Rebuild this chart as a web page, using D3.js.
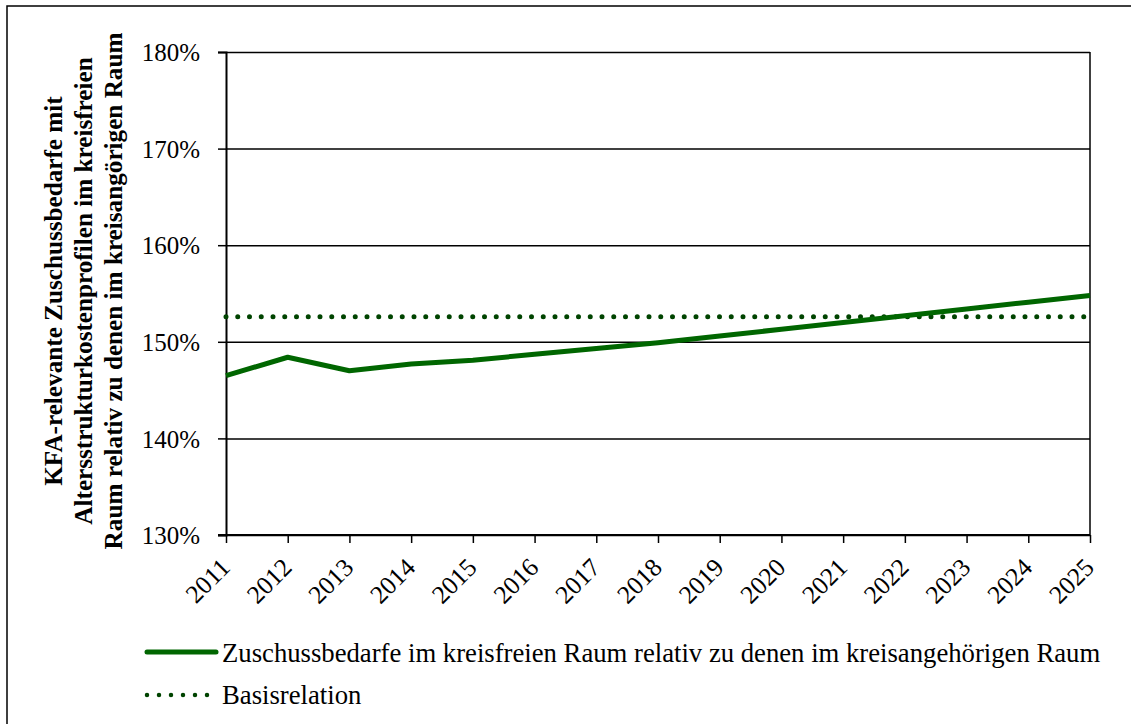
<!DOCTYPE html>
<html>
<head>
<meta charset="utf-8">
<script src="https://cdn.jsdelivr.net/npm/d3@7"></script>
<style>
  body { margin: 0; background: #fff; }
  svg text { font-family: "Liberation Serif", "Times New Roman", serif; fill: #000; }
</style>
</head>
<body>
<div id="chart"></div>
<script>
// data
const years = [2011, 2012, 2013, 2014, 2015, 2016, 2017, 2018, 2019, 2020, 2021, 2022, 2023, 2024, 2025];
const relation = [146.5, 148.4, 147.0, 147.7, 148.1, 148.7, 149.3, 149.9, 150.6, 151.3, 152.0, 152.7, 153.4, 154.1, 154.8];
const basis = 152.6;
const yTicks = [130, 140, 150, 160, 170, 180];
const yTitle = [
  'KFA-relevante Zuschussbedarfe mit',
  'Altersstrukturkostenprofilen im kreisfreien',
  'Raum relativ zu denen im kreisangörigen Raum'
];
const legendNames = [
  'Zuschussbedarfe im kreisfreien Raum relativ zu denen im kreisangehörigen Raum',
  'Basisrelation'
];

const width = 1131;
const height = 724;
const plot = { left: 226, right: 1090, top: 52, bottom: 535 };
const lineColor = '#006600';
const dotColor = '#004400';

const svg = d3.select('#chart')
  .append('svg')
  .attr('width', width)
  .attr('height', height);

// outer frame, runs off the right and bottom edge
svg.append('rect')
   .attr('x', 7).attr('y', 6)
   .attr('width', width + 20).attr('height', height + 20)
   .attr('fill', 'none')
   .attr('stroke', '#000')
   .attr('stroke-width', 1.5);

const x = d3.scalePoint()
            .domain(years)
            .range([plot.left, plot.right]);
const y = d3.scaleLinear()
            .domain([130, 180])
            .range([plot.bottom, plot.top]);

// horizontal grid
svg.append('g')
   .attr('transform', `translate(${plot.left}, 0)`)
   .call(d3.axisLeft(y).tickValues(yTicks).tickSize(-(plot.right - plot.left)).tickFormat(''))
   .call((g) => g.select('.domain').remove())
   .call((g) => g.selectAll('line').attr('stroke', '#000').attr('stroke-width', 1.5));

// right border of plot
svg.append('line')
   .attr('x1', plot.right).attr('x2', plot.right)
   .attr('y1', plot.top).attr('y2', plot.bottom)
   .attr('stroke', '#000').attr('stroke-width', 1.5);

// y axis
const yAxis = svg.append('g')
   .attr('transform', `translate(${plot.left}, 0)`)
   .call(d3.axisLeft(y).tickValues(yTicks).tickSize(8).tickPadding(18).tickFormat((d) => d + '%'));
yAxis.select('.domain').attr('stroke', '#000').attr('stroke-width', 2);
yAxis.selectAll('line').attr('stroke', '#000').attr('stroke-width', 1.5);
yAxis.selectAll('text').style('font-size', '25px').attr('dy', '0.35em');

// x axis
const xAxis = svg.append('g')
   .attr('transform', `translate(0, ${plot.bottom})`)
   .call(d3.axisBottom(x).tickSize(8).tickSizeOuter(0));
xAxis.select('.domain').attr('stroke', '#000').attr('stroke-width', 2)
     .attr('d', `M${plot.left - 8},0H${plot.right}`);
xAxis.selectAll('line').attr('stroke', '#000').attr('stroke-width', 1.5);
xAxis.selectAll('text')
     .style('font-size', '25.5px')
     .attr('text-anchor', 'end')
     .attr('dy', 0)
     .attr('transform', 'translate(5, 34) rotate(-45)')
     .attr('x', 0).attr('y', 0);

// basis line
svg.append('line')
   .attr('x1', x(years[0])).attr('x2', x(years[years.length - 1]))
   .attr('y1', y(basis)).attr('y2', y(basis))
   .attr('stroke', dotColor)
   .attr('stroke-width', 5)
   .attr('stroke-linecap', 'round')
   .attr('stroke-dasharray', '0 11.75');

// relation line
const valueline = d3.line()
                    .x((d, i) => x(years[i]))
                    .y((d) => y(d));
svg.append('path')
   .attr('d', valueline(relation))
   .attr('fill', 'none')
   .attr('stroke', lineColor)
   .attr('stroke-width', 5)
   .attr('stroke-linejoin', 'round');

// y title
const title = svg.append('text')
   .attr('transform', 'translate(82, 291) rotate(-90)')
   .attr('text-anchor', 'middle')
   .style('font-size', '25.2px')
   .style('font-weight', 'bold');
yTitle.forEach((t, i) => {
  title.append('tspan')
       .attr('x', 0)
       .attr('y', (i - 1) * 30 + 10)
       .text(t);
});

// legend
const legend = svg.append('g');
legend.append('line')
      .attr('x1', 147).attr('x2', 216)
      .attr('y1', 652).attr('y2', 652)
      .attr('stroke', lineColor).attr('stroke-width', 5).attr('stroke-linecap', 'round');
legend.append('line')
      .attr('x1', 147).attr('x2', 210)
      .attr('y1', 695).attr('y2', 695)
      .attr('stroke', dotColor).attr('stroke-width', 4.5)
      .attr('stroke-linecap', 'round').attr('stroke-dasharray', '0 12');
legend.selectAll('text.name')
      .data(legendNames)
      .enter()
      .append('text')
      .attr('class', 'name')
      .attr('x', 222)
      .attr('y', (d, i) => 662 + i * 42)
      .style('font-size', '26.7px')
      .text((d) => d);
</script>
</body>
</html>
